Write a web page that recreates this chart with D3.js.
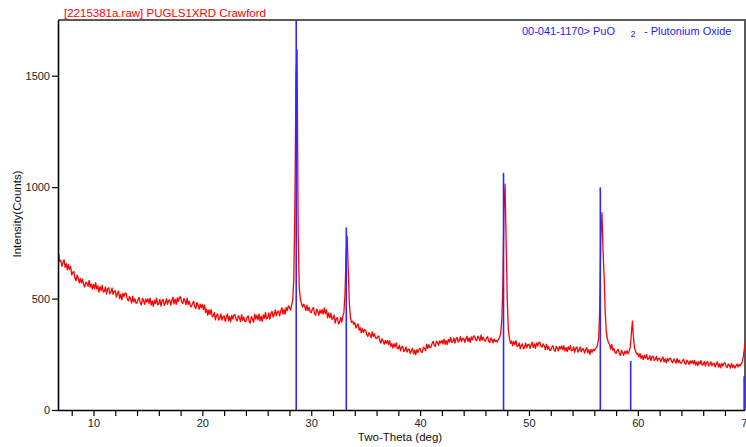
<!DOCTYPE html>
<html>
<head>
<meta charset="utf-8">
<script src="https://cdn.jsdelivr.net/npm/d3@7"></script>
<style>
  body { margin: 0; background: #fff; }
  text { font-family: "Liberation Sans", Arial, sans-serif; }
</style>
</head>
<body>
<script>
//Scan settings (regular 2-theta step)
var scanStart = 6.8;
var scanStep = 0.1;

//Measured counts, one value per step from 6.8 to 69.9 deg
var scanCounts = [
    700, 668,
    671, 645, 662, 674, 640, 657, 629, 653, 631, 644,
    606, 618, 621, 591, 580, 605, 591, 571, 590, 571,
    587, 562, 552, 574, 568, 555, 582, 551, 565, 543,
    565, 544, 571, 544, 557, 529, 554, 536, 559, 529,
    533, 552, 520, 543, 549, 521, 529, 548, 519, 533,
    534, 507, 523, 534, 500, 519, 494, 523, 509, 524,
    523, 499, 489, 510, 500, 480, 511, 484, 500, 480,
    480, 497, 505, 480, 472, 501, 490, 474, 498, 484,
    500, 478, 502, 471, 489, 465, 493, 477, 502, 472,
    476, 497, 466, 490, 496, 469, 479, 500, 474, 490,
    494, 471, 491, 506, 476, 497, 474, 503, 487, 506,
    507, 485, 477, 500, 491, 472, 502, 474, 488, 466,
    463, 480, 488, 463, 455, 483, 470, 452, 475, 459,
    474, 450, 471, 437, 452, 425, 449, 429, 451, 419,
    421, 438, 404, 425, 431, 403, 411, 431, 403, 419,
    422, 398, 417, 431, 400, 420, 396, 424, 408, 427,
    428, 407, 400, 423, 415, 397, 428, 402, 418, 398,
    398, 415, 423, 398, 390, 419, 408, 393, 430, 408,
    425, 404, 430, 400, 420, 398, 427, 412, 438, 409,
    413, 436, 408, 434, 443, 418, 428, 449, 423, 440,
    444, 422, 443, 459, 430, 452, 430, 460, 446, 467,
    460, 448, 470, 495, 590, 930, 1500, 1617, 790, 545,
    500, 478, 462, 475, 465, 446, 471, 446, 460, 440,
    437, 453, 460, 434, 425, 453, 441, 425, 449, 434,
    450, 430, 458, 432, 449, 414, 436, 414, 434, 407,
    413, 426, 390, 410, 414, 386, 394, 416, 394, 421,
    438, 520, 700, 780, 630, 478, 414, 393, 398, 384,
    392, 368, 379, 386, 358, 370, 346, 365, 348, 360,
    358, 338, 330, 347, 339, 325, 351, 330, 342, 324,
    320, 330, 332, 309, 300, 320, 310, 295, 312, 299,
    312, 293, 311, 285, 298, 278, 298, 283, 301, 275,
    276, 291, 265, 282, 286, 262, 268, 283, 260, 272,
    273, 253, 267, 277, 252, 268, 248, 271, 258, 273,
    276, 261, 259, 281, 277, 266, 295, 277, 293, 280,
    282, 299, 308, 290, 285, 309, 302, 290, 310, 300,
    313, 297, 318, 295, 311, 294, 317, 305, 326, 303,
    306, 323, 300, 319, 326, 304, 312, 329, 307, 320,
    322, 304, 319, 331, 307, 324, 304, 328, 315, 331,
    332, 316, 311, 331, 324, 310, 336, 314, 327, 310,
    309, 323, 329, 309, 302, 324, 315, 301, 319, 307,
    312, 305, 318, 326, 345, 400, 560, 900, 1013, 760,
    500, 362, 325, 299, 310, 289, 308, 293, 311, 286,
    287, 301, 274, 291, 296, 274, 283, 300, 279, 293,
    295, 277, 293, 304, 280, 297, 277, 301, 288, 303,
    304, 286, 282, 297, 287, 271, 295, 273, 285, 268,
    268, 282, 289, 269, 263, 286, 278, 265, 285, 274,
    287, 270, 289, 265, 280, 262, 283, 270, 289, 265,
    268, 284, 259, 278, 283, 260, 268, 283, 261, 273,
    275, 255, 270, 280, 256, 271, 250, 272, 259, 273,
    266, 276, 280, 295, 322, 460, 780, 886, 720, 600,
    440, 352, 318, 302, 294, 273, 294, 268, 276, 257,
    254, 267, 272, 252, 245, 267, 258, 245, 264, 253,
    266, 252, 264, 282, 340, 399, 322, 276, 262, 250,
    254, 238, 253, 231, 244, 226, 245, 233, 249, 227,
    230, 244, 222, 238, 242, 222, 227, 241, 221, 232,
    233, 216, 229, 238, 216, 229, 212, 231, 219, 232,
    232, 218, 212, 229, 222, 210, 231, 213, 224, 210,
    210, 221, 228, 210, 205, 224, 216, 204, 221, 210,
    221, 207, 223, 202, 215, 198, 217, 206, 222, 201,
    204, 218, 197, 213, 218, 198, 204, 217, 198, 208,
    210, 193, 206, 216, 193, 207, 189, 209, 197, 210,
    211, 196, 190, 207, 200, 188, 209, 191, 202, 188,
    198, 206, 193, 204, 198, 208, 218, 245, 282, 320
];

//Reference pattern 00-041-1170 (PuO2) sticks
var stickAngles = [28.62, 33.22, 47.66, 56.55, 59.34, 69.76];
var stickCounts = [1750, 819, 1064, 999, 220, 152];

//Axis ticks
var xTicks = [8, 10, 12, 14, 16, 18, 20, 22, 24, 26, 28, 30, 32, 34, 36, 38, 40,
    42, 44, 46, 48, 50, 52, 54, 56, 58, 60, 62, 64, 66, 68, 70];
var yTicks = [0, 500, 1000, 1500];

var titleText = "[2215381a.raw] PUGLS1XRD Crawford";

var width = 746, height = 447;
var plot = {left: 58, right: 745, top: 20, bottom: 410};

//Build point list
var scan = scanCounts.map(function(c, i) {
    return {angle: +(scanStart + i * scanStep).toFixed(2), counts: c};
});

//Create X-SCALE (70 deg sits just past the window edge)
var xScale = d3.scaleLinear().domain([6.74, 70]).range([plot.left, 746.75]);

//Create Y-SCALE
var yScale = d3.scaleLinear().domain([0, 1750]).range([plot.bottom, plot.top]);

var svg = d3.select("body").append("svg")
    .attr("width", width)
    .attr("height", height);

svg.append("defs").append("clipPath")
    .attr("id", "plot-clip")
    .append("rect")
    .attr("x", plot.left)
    .attr("y", plot.top)
    .attr("width", plot.right - plot.left)
    .attr("height", plot.bottom - plot.top);

//Top and right frame
svg.append("path")
    .attr("d", "M" + plot.left + "," + plot.top + "H" + plot.right + "V" + plot.bottom)
    .attr("fill", "none")
    .attr("stroke", "#5a5a5a")
    .attr("stroke-width", 2);

var data_g = svg.append("g").attr("clip-path", "url(#plot-clip)");

//Scan line
var line = d3.line()
    .x(function(d) { return xScale(d.angle); })
    .y(function(d) { return yScale(d.counts); });

data_g.append("path")
    .datum(scan)
    .attr("d", line)
    .attr("fill", "none")
    .attr("stroke", "#ff0000")
    .attr("stroke-width", 1.3)
    .attr("stroke-linejoin", "round");

//Sticks
data_g.selectAll(".stick")
    .data(stickAngles)
    .enter()
    .append("line")
    .attr("class", "stick")
    .attr("x1", function(d) { return xScale(d); })
    .attr("x2", function(d) { return xScale(d); })
    .attr("y1", yScale(0))
    .attr("y2", function(d, i) { return yScale(stickCounts[i]); })
    .attr("stroke", "#2a2aff")
    .attr("stroke-width", 1.6);

//Create x-axis
var xAxis = d3.axisBottom(xScale)
    .tickValues(xTicks)
    .tickSizeInner(6)
    .tickSizeOuter(0)
    .tickPadding(3)
    .tickFormat(function(d) { return d % 10 === 0 ? d : ""; });

var gx = svg.append("g")
    .attr("transform", "translate(0," + plot.bottom + ")")
    .call(xAxis);
gx.select(".domain").attr("d", "M" + plot.left + ",0.5H" + plot.right)
    .attr("stroke", "#000").attr("stroke-width", 1.6);
gx.selectAll(".tick line").attr("stroke", "#000").attr("stroke-width", 1.2);
gx.selectAll(".tick text")
    .attr("fill", "#222")
    .style("font-family", "'Liberation Sans', Arial, sans-serif")
    .style("font-size", "11px");

//Create y-axis
var yAxis = d3.axisLeft(yScale)
    .tickValues(yTicks)
    .tickSizeInner(6)
    .tickSizeOuter(0)
    .tickPadding(2)
    .tickFormat(d3.format("d"));

var gy = svg.append("g")
    .attr("transform", "translate(" + plot.left + ",0)")
    .call(yAxis);
gy.select(".domain").attr("stroke", "#000").attr("stroke-width", 1.6);
gy.selectAll(".tick line").attr("stroke", "#000").attr("stroke-width", 1.2);
gy.selectAll(".tick text")
    .attr("fill", "#222")
    .style("font-family", "'Liberation Sans', Arial, sans-serif")
    .style("font-size", "11px");

//Axis titles
svg.append("text")
    .attr("x", 400)
    .attr("y", 441)
    .attr("text-anchor", "middle")
    .attr("fill", "#111")
    .style("font-size", "11.5px")
    .text("Two-Theta (deg)");

svg.append("text")
    .attr("transform", "translate(21,214) rotate(-90)")
    .attr("text-anchor", "middle")
    .attr("fill", "#111")
    .style("font-size", "11.5px")
    .text("Intensity(Counts)");

//Scan title
svg.append("text")
    .attr("x", 64)
    .attr("y", 16.5)
    .attr("fill", "#ff0000")
    .style("font-size", "11.5px")
    .text(titleText);

//Reference legend
var legend = svg.append("g").attr("fill", "#1a1aff").style("font-size", "11px");
legend.append("text")
    .attr("x", 615)
    .attr("y", 35)
    .attr("text-anchor", "end")
    .text("00-041-1170> PuO");
legend.append("text")
    .attr("x", 633)
    .attr("y", 36.5)
    .attr("text-anchor", "middle")
    .style("font-size", "9px")
    .text("2");
legend.append("text")
    .attr("x", 644)
    .attr("y", 35)
    .text("- Plutonium Oxide");
</script>
</body>
</html>
